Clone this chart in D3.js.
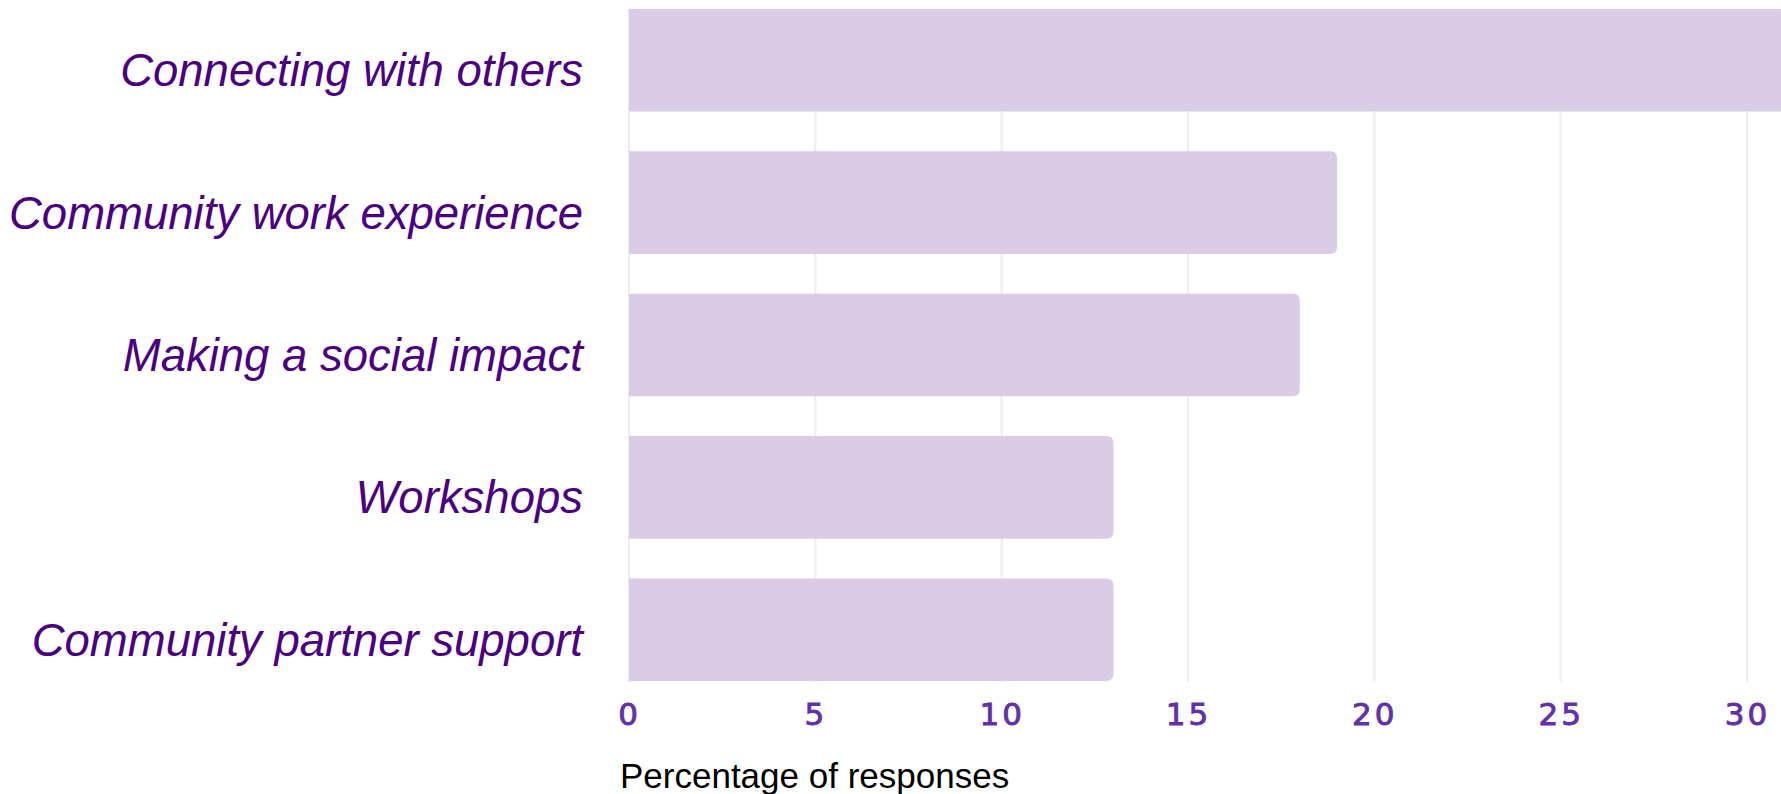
<!DOCTYPE html>
<html>
<head>
<meta charset="utf-8">
<script src="https://cdn.jsdelivr.net/npm/d3@7"></script>
<style>
  html, body { margin: 0; padding: 0; background: #ffffff; }
  svg { display: block; }
</style>
</head>
<body>
<svg id="chart" width="1781" height="794"></svg>
<script>
const categories = ["Connecting with others", "Community work experience", "Making a social impact", "Workshops", "Community partner support"];
const values = [34, 19, 18, 13, 13];
const tickValues = [0, 5, 10, 15, 20, 25, 30];
const axisTitle = "Percentage of responses";

const W = 1781, H = 794;
const svg = d3.select("#chart");

const x = d3.scaleLinear().domain([0, 30]).range([629, 1747]);
const y = d3.scaleBand().domain(categories).range([9, 681]).paddingInner(0.28).paddingOuter(0);

// gridlines
svg.append("g").selectAll("line").data(tickValues).join("line")
  .attr("x1", d => x(d)).attr("x2", d => x(d))
  .attr("y1", y.range()[0]).attr("y2", y.range()[1] + 1)
  .attr("stroke", "#efeaf5").attr("stroke-width", 2);

// bars with rounded right corners
const r = 7;
function barPath(d, i) {
  const x0 = x(0), x1 = x(d), y0 = y(categories[i]), h = y.bandwidth();
  return `M${x0},${y0} H${x1 - r} Q${x1},${y0} ${x1},${y0 + r} V${y0 + h - r} Q${x1},${y0 + h} ${x1 - r},${y0 + h} H${x0} Z`;
}
svg.append("g").selectAll("path").data(values).join("path")
  .attr("d", (d, i) => barPath(d, i))
  .attr("fill", "#dacce6");

// category labels
svg.append("g").selectAll("text").data(categories).join("text")
  .attr("x", 583)
  .attr("y", d => y(d) + y.bandwidth() / 2 + 26)
  .attr("text-anchor", "end")
  .attr("font-family", "'Liberation Sans', Arial, sans-serif")
  .attr("font-style", "italic")
  .attr("font-size", 45.5)
  .attr("fill", "#4b0082")
  .text(d => d);

// x axis tick labels
const xAxis = d3.axisBottom(x).tickValues(tickValues).tickSize(0).tickPadding(0).tickFormat(d3.format("d"));
const gx = svg.append("g").attr("transform", "translate(0,725)").call(xAxis);
gx.select(".domain").remove();
gx.selectAll("text")
  .attr("dy", 0).attr("y", 0)
  .attr("font-family", "'DejaVu Sans', sans-serif")
  .attr("font-size", 31)
  .attr("font-weight", "normal")
  .attr("letter-spacing", 3)
  .attr("fill", "#6230a8")
  .attr("stroke", "#6230a8")
  .attr("stroke-width", 0.9);

// axis title
svg.append("text")
  .attr("x", 620).attr("y", 788)
  .attr("font-family", "'Liberation Sans', Arial, sans-serif")
  .attr("font-size", 35)
  .attr("fill", "#000000")
  .text(axisTitle);
</script>
</body>
</html>
